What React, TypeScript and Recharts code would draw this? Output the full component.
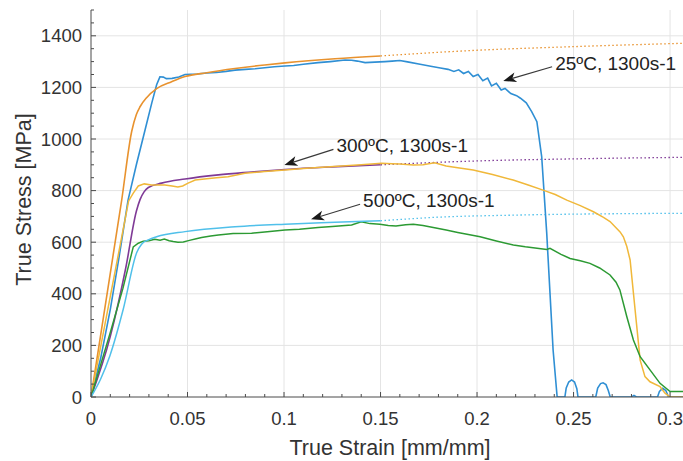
import React from 'react';
import { LineChart, Line, XAxis, YAxis, CartesianGrid, ReferenceLine } from 'recharts';

// ---- tick values ----
const xMajorTicks = [0, 0.05, 0.1, 0.15, 0.2, 0.25, 0.3];
const xAllTicks = [0, 0.01, 0.02, 0.03, 0.04, 0.05, 0.06, 0.07, 0.08, 0.09, 0.1, 0.11, 0.12, 0.13, 0.14, 0.15, 0.16, 0.17, 0.18, 0.19, 0.2, 0.21, 0.22, 0.23, 0.24, 0.25, 0.26, 0.27, 0.28, 0.29, 0.3];
const yMajorTicks = [0, 200, 400, 600, 800, 1000, 1200, 1400];
const yAllTicks = [0, 50, 100, 150, 200, 250, 300, 350, 400, 450, 500, 550, 600, 650, 700, 750, 800, 850, 900, 950, 1000, 1050, 1100, 1150, 1200, 1250, 1300, 1350, 1400, 1450, 1500];
const xDomain = [0, 0.3067];
const yDomain = [0, 1500];

// ---- series (strain, stress) ----
const exp25 = [
  [0, 0], [0.005, 150], [0.01, 340], [0.0145, 540], [0.0192, 763], [0.0235, 900], [0.028, 1035], [0.0315, 1140],
  [0.034, 1210], [0.0357, 1241], [0.0375, 1240], [0.039, 1234], [0.042, 1235], [0.0455, 1240], [0.0487, 1250],
  [0.055, 1252], [0.06, 1256], [0.065, 1258], [0.07, 1262], [0.0746, 1267], [0.08, 1270], [0.085, 1272],
  [0.09, 1276], [0.095, 1280], [0.1005, 1283], [0.105, 1285], [0.11, 1290], [0.1176, 1296], [0.124, 1300],
  [0.1316, 1306], [0.135, 1305], [0.138, 1302], [0.142, 1296], [0.147, 1298], [0.1523, 1300], [0.156, 1302],
  [0.16, 1304], [0.164, 1299], [0.1705, 1290], [0.176, 1282], [0.181, 1275], [0.185, 1270], [0.188, 1262],
  [0.1905, 1268], [0.193, 1254], [0.1955, 1262], [0.198, 1242], [0.2005, 1250], [0.203, 1226], [0.2055, 1236],
  [0.2075, 1206], [0.21, 1216], [0.2125, 1190], [0.2145, 1196], [0.2175, 1176], [0.2205, 1168], [0.2225, 1158],
  [0.2255, 1140], [0.2283, 1106], [0.231, 1067], [0.2335, 931], [0.2361, 635], [0.2394, 182], [0.2415, 0],
  [0.2455, 0], [0.2462, 35], [0.2475, 58], [0.249, 66], [0.2505, 58], [0.2517, 32], [0.2523, 0],
  [0.2615, 0], [0.2625, 35], [0.264, 52], [0.2653, 55], [0.2668, 48], [0.268, 25], [0.269, 0],
  [0.28, 0], [0.2813, 6], [0.2826, 0], [0.2935, 0], [0.2945, 22], [0.2962, 34], [0.2978, 25], [0.2992, 0], [0.3067, 0],
];
const model25 = [
  [0, 0], [0.0159, 763], [0.0211, 1030], [0.0235, 1095], [0.0254, 1125], [0.0288, 1160], [0.034, 1195],
  [0.0418, 1222], [0.0487, 1242], [0.06, 1257], [0.0746, 1273], [0.09, 1287], [0.1005, 1295], [0.1264, 1311], [0.15, 1322],
];
const model25Ext = [[0.15, 1322], [0.2, 1344], [0.25, 1358], [0.3067, 1371]];

const exp300 = [
  [0, 0], [0.01, 390], [0.0195, 760], [0.0219, 790], [0.0245, 818], [0.0276, 826], [0.0314, 822], [0.0383, 822],
  [0.042, 818], [0.045, 814], [0.0475, 818], [0.0503, 829], [0.054, 841], [0.06, 846], [0.065, 850], [0.071, 854],
  [0.0798, 867], [0.09, 874], [0.1005, 880], [0.11, 886], [0.1176, 890], [0.13, 895], [0.14, 900], [0.1506, 906],
  [0.156, 904], [0.16, 903], [0.167, 899], [0.172, 900], [0.178, 908], [0.184, 895], [0.19, 889], [0.198, 880],
  [0.208, 862], [0.2187, 841], [0.2265, 822], [0.2342, 802], [0.2405, 785], [0.2465, 763], [0.2535, 742],
  [0.2603, 718], [0.2655, 696], [0.2689, 680], [0.2741, 640], [0.2758, 621], [0.2776, 583], [0.2793, 531],
  [0.2819, 337], [0.2845, 143], [0.287, 79], [0.2896, 59], [0.2948, 40], [0.2974, 15], [0.3, 0], [0.3067, 0],
];
const model300 = [
  [0, 0], [0.01, 235], [0.018, 500], [0.0235, 720], [0.0254, 765], [0.0275, 795], [0.0297, 812], [0.0366, 829],
  [0.0487, 845], [0.066, 861], [0.0832, 872], [0.1005, 882], [0.125, 892], [0.15, 900],
];
const model300Ext = [[0.15, 900], [0.2, 915], [0.25, 923], [0.3067, 929]];

const exp500 = [
  [0, 0], [0.01, 250], [0.0165, 420], [0.0219, 582], [0.0245, 596], [0.0271, 604], [0.03, 606], [0.033, 611],
  [0.0358, 608], [0.038, 612], [0.0405, 606], [0.0426, 603], [0.045, 600], [0.0478, 601], [0.051, 607],
  [0.0545, 613], [0.0573, 618], [0.062, 624], [0.066, 628], [0.0736, 634], [0.0832, 635], [0.09, 640],
  [0.1005, 647], [0.108, 650], [0.1176, 657], [0.125, 661], [0.135, 667], [0.14, 679], [0.1445, 672],
  [0.1497, 670], [0.154, 665], [0.158, 663], [0.163, 668], [0.167, 670], [0.172, 665], [0.178, 656],
  [0.184, 647], [0.19, 638], [0.1955, 630], [0.2016, 621], [0.21, 605], [0.2188, 589], [0.225, 582],
  [0.2361, 572], [0.2378, 576], [0.2435, 553], [0.2482, 537], [0.2535, 528], [0.2585, 518], [0.2635, 500],
  [0.2689, 473], [0.272, 445], [0.274, 415], [0.2776, 311], [0.281, 221], [0.2845, 156], [0.2896, 105],
  [0.2948, 53], [0.3, 21], [0.3067, 21],
];
const model500 = [
  [0, 0], [0.005, 70], [0.0098, 160], [0.0167, 340], [0.0237, 560], [0.0262, 592], [0.03, 610], [0.034, 621],
  [0.0487, 641], [0.0746, 660], [0.1005, 670], [0.1264, 677], [0.15, 683],
];
const model500Ext = [[0.15, 683], [0.18, 697], [0.22, 705], [0.3067, 712]];

// ---- annotations: label, arrow tail (strain, stress), arrow head (strain, stress) ----
const annotationLabels = ['25ºC, 1300s-1', '300ºC, 1300s-1', '500ºC, 1300s-1'];
const annotationTails = [[0.2389, 1280], [0.1256, 960], [0.1394, 747]];
const annotationHeads = [[0.2136, 1225], [0.1002, 899], [0.114, 689]];

const toPts = (arr: number[][]) => arr.map(([x, y]) => ({ x, y }));

const FONT = '"Liberation Sans", Arial, Helvetica, sans-serif';
const AXIS_COLOR = '#4a4a4a';
const TEXT_COLOR = '#333333';

const isMajorX = (v: number) => xMajorTicks.some((m) => Math.abs(m - v) < 1e-9);
const isMajorY = (v: number) => yMajorTicks.includes(v);

const fmtX = (v: number) => (v === 0 ? '0' : String(Number(v.toFixed(2))));

const BottomTick = (props: any) => {
  const { x, y, payload } = props;
  const v = payload.value;
  const major = isMajorX(v);
  return (
    <g>
      <line x1={x} x2={x} y1={y} y2={y - (major ? 5 : 3)} stroke={AXIS_COLOR} strokeWidth={1} />
      {major && (
        <text x={x} y={y + 28} textAnchor="middle" fontSize={18.5} fill={TEXT_COLOR} fontFamily={FONT}>
          {fmtX(v)}
        </text>
      )}
    </g>
  );
};

const TopTick = (props: any) => {
  const { x, y, payload } = props;
  const major = isMajorX(payload.value);
  return <line x1={x} x2={x} y1={y} y2={y + (major ? 5 : 3)} stroke={AXIS_COLOR} strokeWidth={1} />;
};

const LeftTick = (props: any) => {
  const { x, y, payload } = props;
  const v = payload.value;
  const major = isMajorY(v);
  return (
    <g>
      <line x1={x} x2={x + (major ? 5 : 3)} y1={y} y2={y} stroke={AXIS_COLOR} strokeWidth={1} />
      {major && (
        <text x={x - 9} y={y + 6.6} textAnchor="end" fontSize={18.5} fill={TEXT_COLOR} fontFamily={FONT}>
          {v}
        </text>
      )}
    </g>
  );
};

const ArrowShape = (props: any) => {
  const { x1, y1, x2, y2, text } = props;
  if ([x1, y1, x2, y2].some((v) => typeof v !== 'number' || isNaN(v))) return null;
  const dx = x2 - x1;
  const dy = y2 - y1;
  const len = Math.hypot(dx, dy) || 1;
  const ux = dx / len;
  const uy = dy / len;
  const headLen = 13;
  const headW = 5;
  const bx = x2 - ux * headLen;
  const by = y2 - uy * headLen;
  const px = -uy;
  const py = ux;
  const nx = bx + ux * 3.5;
  const ny = by + uy * 3.5;
  return (
    <g>
      <line x1={x1} y1={y1} x2={nx} y2={ny} stroke="#3a3a3a" strokeWidth={1.2} />
      <polygon
        points={`${x2},${y2} ${bx + px * headW},${by + py * headW} ${nx},${ny} ${bx - px * headW},${by - py * headW}`}
        fill="#1a1a1a"
      />
      <text x={x1 + 3} y={y1 + 2.8} fontSize={19} fill="#222" fontFamily={FONT}>
        {text}
      </text>
    </g>
  );
};

const XLabel = (props: any) => {
  const vb = props.viewBox || { x: 0, y: 0, width: 0, height: 0 };
  return (
    <text x={vb.x + vb.width / 2 + 3} y={vb.y + vb.height - 6} textAnchor="middle" fontSize={21.5} fill={TEXT_COLOR} fontFamily={FONT}>
      True Strain [mm/mm]
    </text>
  );
};

const YLabel = (props: any) => {
  const vb = props.viewBox || { x: 0, y: 0, width: 0, height: 0 };
  const cx = vb.x + 23;
  const cy = vb.y + vb.height / 2 - 4;
  return (
    <text transform={`translate(${cx},${cy}) rotate(-90)`} x={0} y={7.7} textAnchor="middle" fontSize={21.5} fill={TEXT_COLOR} fontFamily={FONT}>
      True Stress [MPa]
    </text>
  );
};

const COLORS = {
  blue: '#2f8fd4',
  orange: '#e8922e',
  yellow: '#f0b83a',
  purple: '#7f3a96',
  green: '#2c9a33',
  cyan: '#50c0ea',
};

export default function App() {
  return (
    <div style={{ position: 'absolute', left: 0, top: 0, width: 683, height: 461, background: '#fff' }}>
      <LineChart width={683} height={461} margin={{ top: 10, right: 0, bottom: 0, left: 0 }}>
        <CartesianGrid
          stroke="#e4e4e4"
          strokeWidth={1}
          horizontalValues={[200, 400, 600, 800, 1000, 1200, 1400]}
          verticalValues={[0.05, 0.1, 0.15, 0.2, 0.25, 0.3]}
        />
        <XAxis
          dataKey="x"
          type="number"
          domain={xDomain}
          allowDataOverflow
          ticks={xAllTicks}
          interval={0}
          tick={<BottomTick />}
          tickLine={false}
          tickSize={0}
          tickMargin={0}
          height={64}
          axisLine={{ stroke: AXIS_COLOR, strokeWidth: 1 }}
          label={<XLabel />}
        />
        <XAxis
          xAxisId="top"
          orientation="top"
          dataKey="x"
          type="number"
          domain={xDomain}
          allowDataOverflow
          ticks={xAllTicks}
          interval={0}
          tick={<TopTick />}
          tickLine={false}
          tickSize={0}
          tickMargin={0}
          height={0}
          axisLine={{ stroke: AXIS_COLOR, strokeWidth: 1 }}
        />
        <YAxis
          type="number"
          domain={yDomain}
          allowDataOverflow
          ticks={yAllTicks}
          interval={0}
          tick={<LeftTick />}
          tickLine={false}
          tickSize={0}
          tickMargin={0}
          width={91}
          axisLine={{ stroke: AXIS_COLOR, strokeWidth: 1 }}
          label={<YLabel />}
        />
        <Line data={toPts(model25Ext)} dataKey="y" type="monotone" stroke={COLORS.orange} strokeWidth={1.3} strokeDasharray="1.5 2.5" dot={false} isAnimationActive={false} />
        <Line data={toPts(model300Ext)} dataKey="y" type="monotone" stroke={COLORS.purple} strokeWidth={1.3} strokeDasharray="1.5 2.5" dot={false} isAnimationActive={false} />
        <Line data={toPts(model500Ext)} dataKey="y" type="monotone" stroke={COLORS.cyan} strokeWidth={1.3} strokeDasharray="1.5 2.5" dot={false} isAnimationActive={false} />
        <Line data={toPts(exp25)} dataKey="y" type="linear" stroke={COLORS.blue} strokeWidth={1.6} dot={false} isAnimationActive={false} />
        <Line data={toPts(model25)} dataKey="y" type="monotone" stroke={COLORS.orange} strokeWidth={1.6} dot={false} isAnimationActive={false} />
        <Line data={toPts(model300)} dataKey="y" type="monotone" stroke={COLORS.purple} strokeWidth={1.6} dot={false} isAnimationActive={false} />
        <Line data={toPts(exp300)} dataKey="y" type="linear" stroke={COLORS.yellow} strokeWidth={1.5} dot={false} isAnimationActive={false} />
        <Line data={toPts(exp500)} dataKey="y" type="linear" stroke={COLORS.green} strokeWidth={1.5} dot={false} isAnimationActive={false} />
        <Line data={toPts(model500)} dataKey="y" type="monotone" stroke={COLORS.cyan} strokeWidth={1.5} dot={false} isAnimationActive={false} />
        {annotationLabels.map((label, i) => (
          <ReferenceLine
            key={label}
            segment={[
              { x: annotationTails[i][0], y: annotationTails[i][1] },
              { x: annotationHeads[i][0], y: annotationHeads[i][1] },
            ]}
            ifOverflow="visible"
            shape={(p: any) => <ArrowShape {...p} text={label} />}
          />
        ))}
      </LineChart>
    </div>
  );
}
